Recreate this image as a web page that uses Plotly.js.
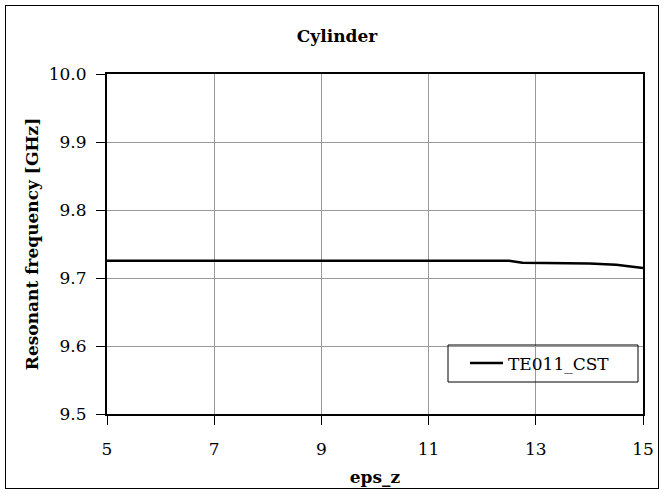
<!DOCTYPE html>
<html>
<head>
<meta charset="utf-8">
<script src="https://cdn.plot.ly/plotly-3.0.1.min.js"></script>
<style>
html,body{margin:0;padding:0;background:#fff;}
#wrap{position:relative;width:664px;height:493px;}
#chart{position:absolute;left:0;top:0;width:664px;height:493px;}
#frame{position:absolute;left:5px;top:5px;width:652px;height:482px;border:1.5px solid #000;pointer-events:none;}
</style>
</head>
<body>
<div id="wrap"><div id="chart"></div><div id="frame"></div></div>
<script>
var epsZ = [5, 6, 7, 8, 9, 10, 11, 12, 12.5, 12.75, 13, 13.5, 14, 14.5, 15];
var te011CST = [9.7255, 9.7255, 9.7255, 9.7255, 9.7255, 9.7255, 9.7255, 9.7255, 9.7255, 9.7225, 9.7225, 9.7225, 9.7215, 9.7195, 9.7148];
var xTicks = [5, 7, 9, 11, 13, 15];
var yTicks = [9.5, 9.6, 9.7, 9.8, 9.9, 10.0];
var yTickText = ['9.5', '9.6', '9.7', '9.8', '9.9', '10.0'];

var serif = 'DejaVu Serif';

var trace = {
  x: epsZ, y: te011CST, type: 'scatter', mode: 'lines', name: 'TE011_CST',
  line: {color: '#000', width: 2.5}
};

var L = 107, R = 643, T = 74, B = 414;
var layout = {
  width: 664, height: 493,
  margin: {l: L, r: 664 - R, t: T, b: 493 - B},
  paper_bgcolor: '#fff', plot_bgcolor: '#fff',
  font: {family: serif, color: '#000'},
  title: {text: '<b>Cylinder</b>', font: {family: serif, size: 17, color: '#000'}, x: 337 / 664, xanchor: 'center', y: 1 - 36/493, yanchor: 'middle'},
  xaxis: {
    range: [5, 15], tickvals: xTicks, ticktext: xTicks.map(String),
    showgrid: true, gridcolor: '#999999', gridwidth: 1,
    showline: true, linecolor: '#000', linewidth: 2, mirror: true,
    ticks: 'outside', ticklen: 9, tickcolor: '#000', tickwidth: 1,
    ticklabelstandoff: 10,
    zeroline: false,
    tickfont: {family: serif, size: 17, color: '#000'},
    title: {text: '<b>eps_z</b>', font: {family: serif, size: 17, color: '#000'}, standoff: 13}
  },
  yaxis: {
    range: [9.5, 10.0], tickvals: yTicks, ticktext: yTickText,
    showgrid: true, gridcolor: '#999999', gridwidth: 1,
    showline: true, linecolor: '#000', linewidth: 2, mirror: true,
    ticks: 'outside', ticklen: 9, tickcolor: '#000', tickwidth: 1,
    ticklabelstandoff: 6,
    zeroline: false,
    tickfont: {family: serif, size: 17, color: '#000'},
    title: {text: '<b>Resonant frequency [GHz]</b>', font: {family: serif, size: 17, color: '#000'}, standoff: 6}
  },
  showlegend: true,
  legend: {
    x: (465 - L) / (R - L), y: (B - 363.5) / (B - T), xanchor: 'left', yanchor: 'middle',
    bgcolor: 'rgba(0,0,0,0)', borderwidth: 0, itemwidth: 33,
    font: {family: serif, size: 17, color: '#000'}
  },
  shapes: [{
    type: 'rect', xref: 'paper', yref: 'paper', layer: 'above',
    x0: (448 - L) / (R - L), x1: (638 - L) / (R - L),
    y0: (B - 382) / (B - T), y1: (B - 345) / (B - T),
    line: {color: '#000', width: 1}, fillcolor: 'rgba(0,0,0,0)'
  }]
};

Plotly.newPlot('chart', [trace], layout, {displayModeBar: false, staticPlot: true});
</script>
</body>
</html>
